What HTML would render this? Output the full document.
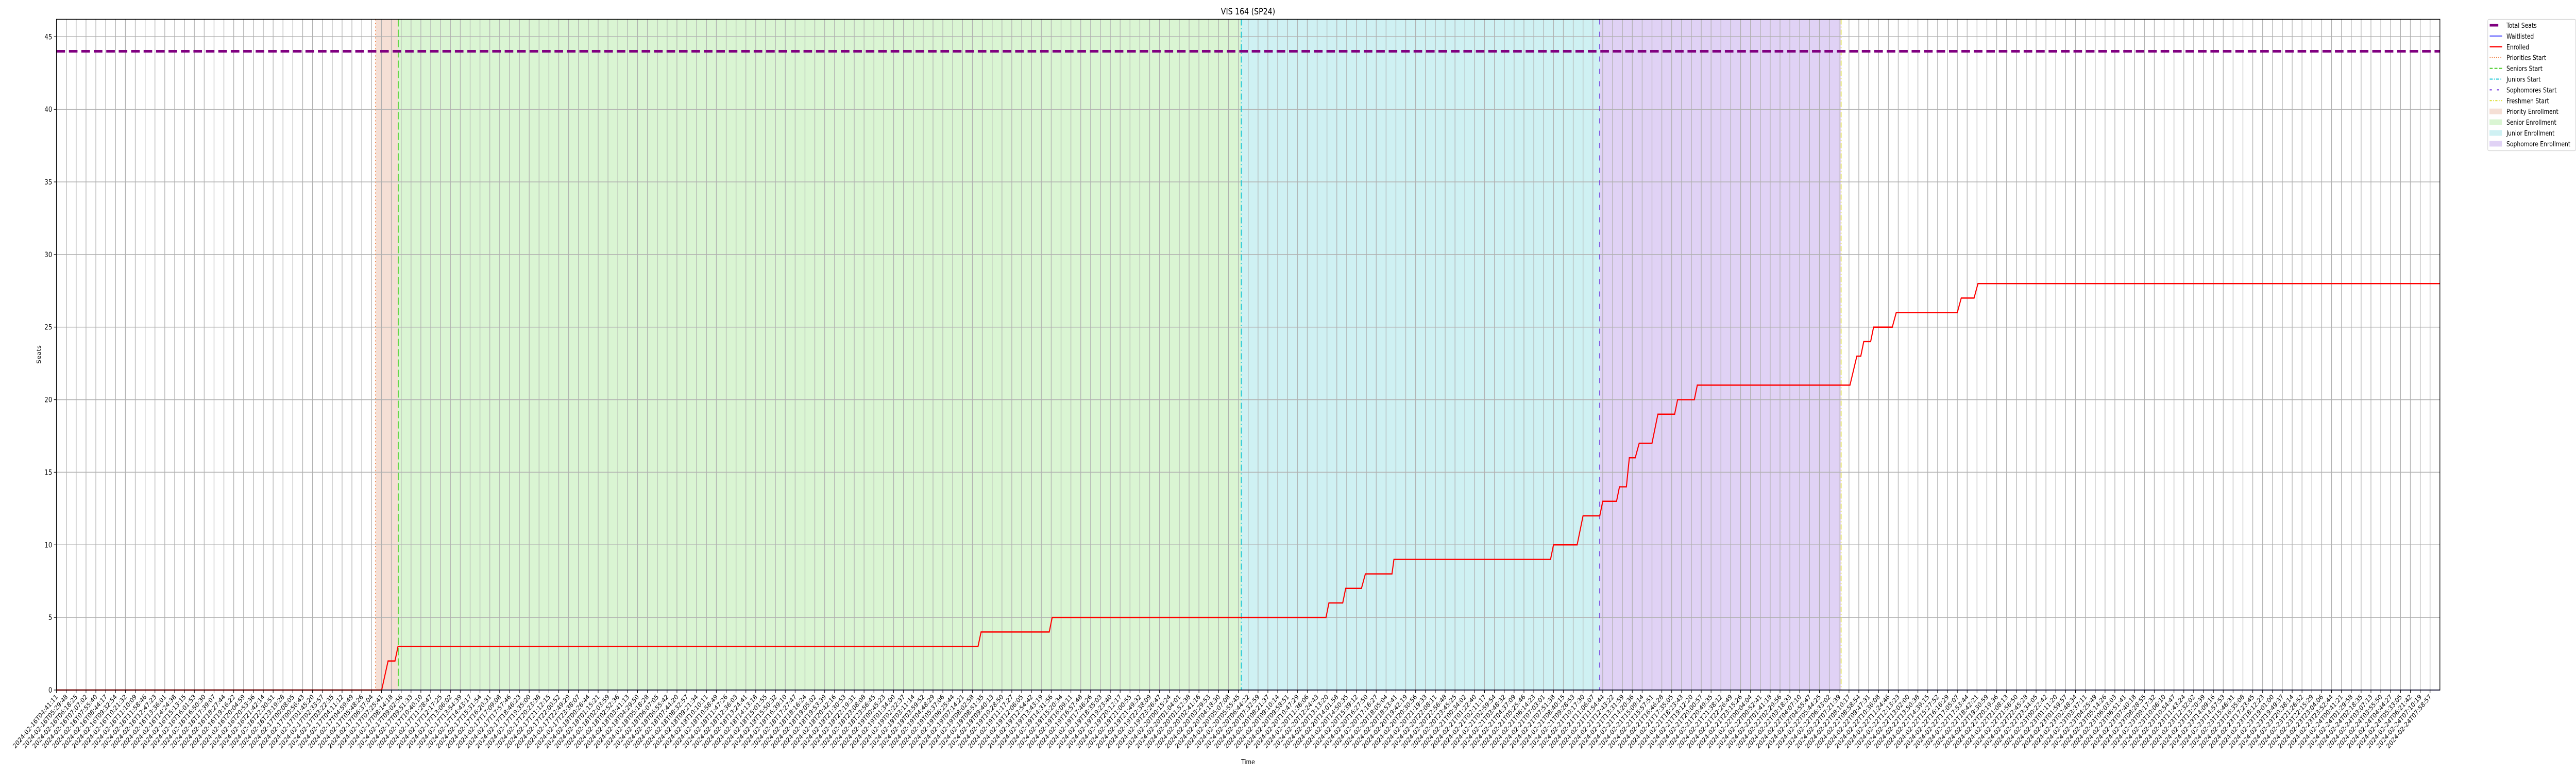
<!DOCTYPE html>
<html><head><meta charset="utf-8"><style>
html,body{margin:0;padding:0;background:#fff;width:100%;height:100%;overflow:hidden;}
svg{display:block;width:100vw;height:100vh;font-family:"DejaVu Sans","Liberation Sans",sans-serif;}
</style></head><body>
<svg id="chart" viewBox="0 0 6000 1500" preserveAspectRatio="none" xmlns="http://www.w3.org/2000/svg">
<rect width="6000" height="1500" fill="#fff"/>
<g id="regions"></g>
<g id="grid"></g>
<g id="vlines"></g>
<g id="series"></g>
<g id="axes"></g>
<text x="2907" y="28" font-size="17" text-anchor="middle">VIS 164 (SP24)</text>
<text x="0" y="0" font-size="13" text-anchor="middle" transform="translate(95,688) rotate(-90)">Seats</text>
<text x="2907" y="1483" font-size="13" text-anchor="middle">Time</text>
<g id="legend"></g>
</svg>
<script>
// ---- data ----
const enrolledX = [0,33.02,33.67,34.37,34.68,93.57,93.88,100.8,101.1,128.9,129.2,130.6,130.9,132.5,132.9,135.6,135.8,151.7,152.0,154.4,155.0,156.7,157.0,158.4,158.7,159.4,159.7,160.3,160.7,162.0,162.6,164.3,164.6,166.3,166.6,182.1,182.8,183.2,183.5,184.2,184.5,186.4,186.8,193.0,193.4,194.7,195.1,242.0];
const enrolledY = [0,0,2,2,3,3,4,4,5,5,6,6,7,7,8,8,9,9,10,10,12,12,13,13,14,14,16,16,17,17,19,19,20,20,21,21,23,23,24,24,25,25,26,26,27,27,28,28];
const waitlistX = [0,242.0];
const waitlistY = [0,0];
const totalSeats = [44];
const phaseNames = ["Priority Enrollment","Senior Enrollment","Junior Enrollment","Sophomore Enrollment"];
const phaseStart = [32.4,34.7,120.3,156.7];
const phaseEnd = [34.7,120.3,156.7,181.2];
const startNames = ["Priorities Start","Seniors Start","Juniors Start","Sophomores Start","Freshmen Start"];
const startX = [32.4,34.7,120.3,156.7,181.2];
const yTicks = [0,5,10,15,20,25,30,35,40,45];
const tickCount = 242;
const tickStartTime = "2024-02-16T04:41:11";
const tickEndTime = "2024-02-24T07:58:57";

// ---- axes ----
const L=131.5,R=5683,T=37.5,B=1339;
const XMAX=242.0, YMAX=46.2;
const xs=v=>L+v*(R-L)/XMAX;
const ys=v=>B-v*(B-T)/YMAX;
const NS="http://www.w3.org/2000/svg";
function mk(tag,attrs,parent){const e=document.createElementNS(NS,tag);for(const k in attrs)e.setAttribute(k,attrs[k]);parent.appendChild(e);return e;}
const gReg=document.getElementById('regions'),gGrid=document.getElementById('grid'),gV=document.getElementById('vlines'),gS=document.getElementById('series'),gA=document.getElementById('axes'),gL=document.getElementById('legend');
const fills=["#f5dfd5","#daf5d3","#cff1f3","#e0d2f5"];
const lineCols=["#f07a3a","#44cc22","#16c6d4","#6622dd","#dddd33"];
const dashes=["2,5","14,6","12,5,2,5","10,14","10,4,2,4"];
for(let i=0;i<phaseStart.length;i++){
  const r=mk('rect',{x:xs(phaseStart[i]),y:T,width:xs(phaseEnd[i])-xs(phaseStart[i]),height:B-T,fill:fills[i]},gReg);
  
  
}
const t0=Date.parse(tickStartTime+"Z"),t1=Date.parse(tickEndTime+"Z");
function fmt(ms){return new Date(ms).toISOString().slice(0,19);}
for(let i=0;i<tickCount;i++){
  const x=xs(i);
  const gl=mk('line',{x1:x,x2:x,y1:T,y2:B,stroke:"#b0b0b0","stroke-width":1.5},gGrid);
  
  
  mk('line',{x1:x,x2:x,y1:B,y2:B+6,stroke:"#000","stroke-width":1.2},gA);
  const lbl=fmt(t0+(t1-t0)*i/(tickCount-1));
  const t=mk('text',{x:0,y:0,"font-size":13,"text-anchor":"end",transform:`translate(${x+4},${B+14}) rotate(-45)`},gA);
  
  
  t.textContent=lbl;
}
yTicks.forEach(v=>{
  const y=ys(v);
  const gl=mk('line',{x1:L,x2:R,y1:y,y2:y,stroke:"#b0b0b0","stroke-width":1.5},gGrid);
  
  
  mk('line',{x1:L-6,x2:L,y1:y,y2:y,stroke:"#000","stroke-width":1.2},gA);
  const t=mk('text',{x:L-10,y:y+5,"font-size":14,"text-anchor":"end"},gA);
  
  
  t.textContent=v;
});
for(let i=0;i<startX.length;i++){
  const l=mk('line',{x1:xs(startX[i]),x2:xs(startX[i]),y1:T,y2:B,stroke:lineCols[i],"stroke-width":2,"stroke-dasharray":dashes[i]},gV);
  
  
}
const ts=mk('line',{x1:L,x2:R,y1:ys(totalSeats[0]),y2:ys(totalSeats[0]),stroke:"#800080","stroke-width":5,"stroke-dasharray":"20,9"},gS);


const wl=mk('polyline',{points:waitlistX.map((v,i)=>xs(v)+","+ys(waitlistY[i])).join(" "),fill:"none",stroke:"#0000ff","stroke-width":1.5},gS);


const en=mk('polyline',{points:enrolledX.map((v,i)=>xs(v)+","+ys(enrolledY[i])).join(" "),fill:"none",stroke:"#ff0000","stroke-width":2.5,"stroke-linejoin":"miter"},gS);


const fr=mk('rect',{x:L,y:T,width:R-L,height:B-T,fill:"none",stroke:"#000","stroke-width":1.5},gA);



mk('rect',{x:5794.5,y:37.5,width:205,height:255,rx:3,fill:"#fff",stroke:"#d0d0d0","stroke-width":1.2},gL);
const entries=[
 {n:"Total Seats",k:"line",c:"#800080",w:5,d:""},
 {n:"Waitlisted",k:"line",c:"#0000ff",w:1.5,d:""},
 {n:"Enrolled",k:"line",c:"#ff0000",w:2.5,d:""},
 {n:"Priorities Start",k:"line",c:lineCols[0],w:2,d:"2,3"},
 {n:"Seniors Start",k:"line",c:lineCols[1],w:2,d:"7,4"},
 {n:"Juniors Start",k:"line",c:lineCols[2],w:2,d:"7,3,2,3"},
 {n:"Sophomores Start",k:"line",c:lineCols[3],w:2,d:"5,12"},
 {n:"Freshmen Start",k:"line",c:lineCols[4],w:2,d:"5,3,2,3"},
 {n:"Priority Enrollment",k:"rect",c:fills[0]},
 {n:"Senior Enrollment",k:"rect",c:fills[1]},
 {n:"Junior Enrollment",k:"rect",c:fills[2]},
 {n:"Sophomore Enrollment",k:"rect",c:fills[3]}
];
entries.forEach((e,i)=>{
  const y=49+i*20.9;
  const g=mk('g',{},gL);
  
  
  if(e.k==="line"){
    const x2=e.n==="Total Seats"?5819:5828;
    mk('line',{x1:5799,x2:x2,y1:y,y2:y,stroke:e.c,"stroke-width":e.w,"stroke-dasharray":e.d},g);
  } else {
    mk('rect',{x:5799,y:y-5,width:28,height:10,fill:e.c,stroke:e.c},g);
  }
  const t=mk('text',{x:5838,y:y+5,"font-size":13},g);
  t.textContent=e.n;
});
</script>
</body></html>
